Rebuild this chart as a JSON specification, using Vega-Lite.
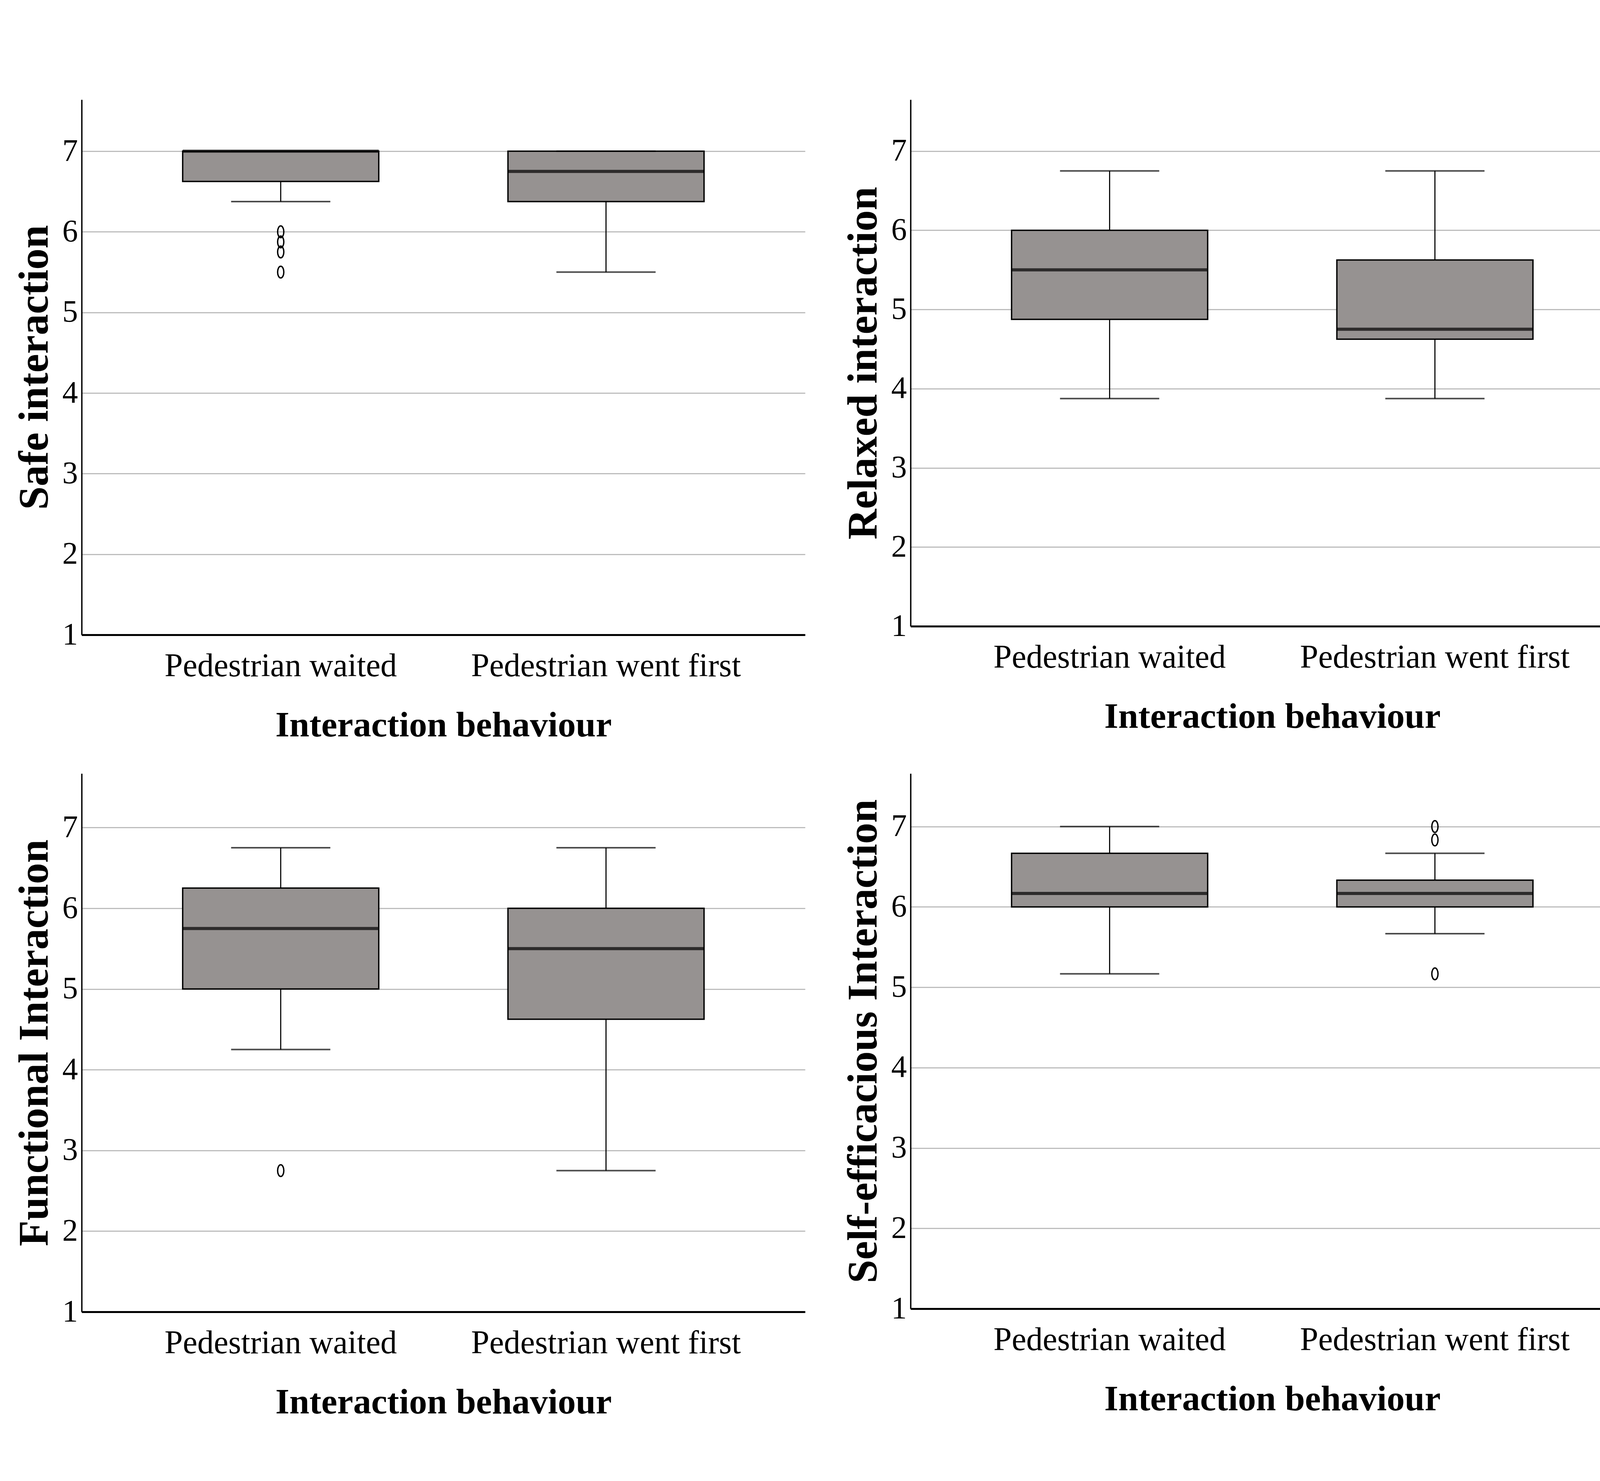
{
  "$schema": "https://vega.github.io/schema/vega-lite/v6.json",
  "background": "white",
  "padding": {"left": 35, "top": 255, "right": 2, "bottom": 2},
  "datasets": {
    "boxes": [
      {"measure": "Safe", "group": "Pedestrian waited", "lower": 6.375, "q1": 6.625, "median": 7.0, "q3": 7.0, "upper": 7.0},
      {"measure": "Safe", "group": "Pedestrian went first", "lower": 5.5, "q1": 6.375, "median": 6.75, "q3": 7.0, "upper": 7.0},
      {"measure": "Relaxed", "group": "Pedestrian waited", "lower": 3.875, "q1": 4.875, "median": 5.5, "q3": 6.0, "upper": 6.75},
      {"measure": "Relaxed", "group": "Pedestrian went first", "lower": 3.875, "q1": 4.625, "median": 4.75, "q3": 5.625, "upper": 6.75},
      {"measure": "Functional", "group": "Pedestrian waited", "lower": 4.25, "q1": 5.0, "median": 5.75, "q3": 6.25, "upper": 6.75},
      {"measure": "Functional", "group": "Pedestrian went first", "lower": 2.75, "q1": 4.625, "median": 5.5, "q3": 6.0, "upper": 6.75},
      {"measure": "Self", "group": "Pedestrian waited", "lower": 5.167, "q1": 6.0, "median": 6.167, "q3": 6.667, "upper": 7.0},
      {"measure": "Self", "group": "Pedestrian went first", "lower": 5.667, "q1": 6.0, "median": 6.167, "q3": 6.333, "upper": 6.667}
    ],
    "outliers": [
      {"measure": "Safe", "group": "Pedestrian waited", "value": 6.0},
      {"measure": "Safe", "group": "Pedestrian waited", "value": 5.875},
      {"measure": "Safe", "group": "Pedestrian waited", "value": 5.75},
      {"measure": "Safe", "group": "Pedestrian waited", "value": 5.5},
      {"measure": "Functional", "group": "Pedestrian waited", "value": 2.75},
      {"measure": "Self", "group": "Pedestrian went first", "value": 7.0},
      {"measure": "Self", "group": "Pedestrian went first", "value": 6.833},
      {"measure": "Self", "group": "Pedestrian went first", "value": 5.167}
    ]
  },
  "config": {
    "font": "Liberation Serif",
    "view": {"stroke": null},
    "axis": {
      "domainColor": "black", "ticks": false, "tickSize": 0,
      "labelColor": "black", "labelFont": "Liberation Serif", "labelLimit": 3000,
      "titleFont": "Liberation Serif", "titleFontWeight": "bold", "titleColor": "black", "titleLimit": 4000
    },
    "axisY": {"domainWidth": 3.5, "grid": true, "gridColor": "#bdbdbd", "gridWidth": 3, "labelFontSize": 80, "labelPadding": 10, "titleFontSize": 108, "titlePadding": 15, "format": "d"},
    "axisX": {"domainWidth": 5, "grid": false, "labelAngle": 0, "labelFontSize": 84, "labelPadding": 39, "titleFontSize": 92, "titlePadding": 64}
  },
  "spacing": 78,
  "vconcat": [
    {
      "spacing": 96,
      "hconcat": [
        {
          "width": 1852, "height": 1370,
          "data": {"name": "boxes"},
          "encoding": {"x": {"field": "group", "type": "nominal", "sort": ["Pedestrian waited", "Pedestrian went first"], "scale": {"type": "band", "paddingInner": 0, "paddingOuter": 0.112}, "axis": {"title": "Interaction behaviour"}}},
          "layer": [
            {"transform": [{"filter": "datum.measure === 'Safe'"}], "mark": {"type": "rule", "color": "black", "strokeWidth": 2.8}, "encoding": {"y": {"field": "lower", "type": "quantitative", "scale": {"domain": [1, 7.64], "nice": false, "zero": false}, "axis": {"values": [1, 2, 3, 4, 5, 6, 7]}, "title": "Safe interaction"}, "y2": {"field": "upper"}}},
            {"transform": [{"filter": "datum.measure === 'Safe'"}], "mark": {"type": "bar", "width": 502, "fill": "#969291", "stroke": "black", "strokeWidth": 3.5}, "encoding": {"y": {"field": "q1", "type": "quantitative", "title": "Safe interaction"}, "y2": {"field": "q3"}}},
            {"transform": [{"filter": "datum.measure === 'Safe'"}], "mark": {"type": "tick", "color": "black", "size": 502, "thickness": 8}, "encoding": {"y": {"field": "median", "type": "quantitative", "title": "Safe interaction"}}},
            {"transform": [{"filter": "datum.measure === 'Safe'"}], "mark": {"type": "tick", "color": "black", "size": 254, "thickness": 4}, "encoding": {"y": {"field": "lower", "type": "quantitative", "title": "Safe interaction"}}},
            {"transform": [{"filter": "datum.measure === 'Safe'"}], "mark": {"type": "tick", "color": "black", "size": 254, "thickness": 4}, "encoding": {"y": {"field": "upper", "type": "quantitative", "title": "Safe interaction"}}},
            {"data": {"name": "outliers"}, "transform": [{"filter": "datum.measure === 'Safe'"}], "mark": {"type": "point", "shape": "M0,-1 A0.53,1 0 1,1 0,1 A0.53,1 0 1,1 0,-1 Z", "filled": false, "color": "black", "strokeWidth": 3.5, "size": 900, "opacity": 1}, "encoding": {"y": {"field": "value", "type": "quantitative", "title": "Safe interaction"}}}
          ]
        },
        {
          "width": 1852, "height": 1348,
          "data": {"name": "boxes"},
          "encoding": {"x": {"field": "group", "type": "nominal", "sort": ["Pedestrian waited", "Pedestrian went first"], "scale": {"type": "band", "paddingInner": 0, "paddingOuter": 0.112}, "axis": {"title": "Interaction behaviour"}}},
          "layer": [
            {"transform": [{"filter": "datum.measure === 'Relaxed'"}], "mark": {"type": "rule", "color": "black", "strokeWidth": 2.8}, "encoding": {"y": {"field": "lower", "type": "quantitative", "scale": {"domain": [1, 7.65], "nice": false, "zero": false}, "axis": {"values": [1, 2, 3, 4, 5, 6, 7]}, "title": "Relaxed interaction"}, "y2": {"field": "upper"}}},
            {"transform": [{"filter": "datum.measure === 'Relaxed'"}], "mark": {"type": "bar", "width": 502, "fill": "#969291", "stroke": "black", "strokeWidth": 3.5}, "encoding": {"y": {"field": "q1", "type": "quantitative", "title": "Relaxed interaction"}, "y2": {"field": "q3"}}},
            {"transform": [{"filter": "datum.measure === 'Relaxed'"}], "mark": {"type": "tick", "color": "black", "size": 502, "thickness": 8}, "encoding": {"y": {"field": "median", "type": "quantitative", "title": "Relaxed interaction"}}},
            {"transform": [{"filter": "datum.measure === 'Relaxed'"}], "mark": {"type": "tick", "color": "black", "size": 254, "thickness": 4}, "encoding": {"y": {"field": "lower", "type": "quantitative", "title": "Relaxed interaction"}}},
            {"transform": [{"filter": "datum.measure === 'Relaxed'"}], "mark": {"type": "tick", "color": "black", "size": 254, "thickness": 4}, "encoding": {"y": {"field": "upper", "type": "quantitative", "title": "Relaxed interaction"}}}
          ]
        }
      ]
    },
    {
      "spacing": 96,
      "hconcat": [
        {
          "width": 1852, "height": 1378,
          "data": {"name": "boxes"},
          "encoding": {"x": {"field": "group", "type": "nominal", "sort": ["Pedestrian waited", "Pedestrian went first"], "scale": {"type": "band", "paddingInner": 0, "paddingOuter": 0.112}, "axis": {"title": "Interaction behaviour"}}},
          "layer": [
            {"transform": [{"filter": "datum.measure === 'Functional'"}], "mark": {"type": "rule", "color": "black", "strokeWidth": 2.8}, "encoding": {"y": {"field": "lower", "type": "quantitative", "scale": {"domain": [1, 7.67], "nice": false, "zero": false}, "axis": {"values": [1, 2, 3, 4, 5, 6, 7]}, "title": "Functional Interaction"}, "y2": {"field": "upper"}}},
            {"transform": [{"filter": "datum.measure === 'Functional'"}], "mark": {"type": "bar", "width": 502, "fill": "#969291", "stroke": "black", "strokeWidth": 3.5}, "encoding": {"y": {"field": "q1", "type": "quantitative", "title": "Functional Interaction"}, "y2": {"field": "q3"}}},
            {"transform": [{"filter": "datum.measure === 'Functional'"}], "mark": {"type": "tick", "color": "black", "size": 502, "thickness": 8}, "encoding": {"y": {"field": "median", "type": "quantitative", "title": "Functional Interaction"}}},
            {"transform": [{"filter": "datum.measure === 'Functional'"}], "mark": {"type": "tick", "color": "black", "size": 254, "thickness": 4}, "encoding": {"y": {"field": "lower", "type": "quantitative", "title": "Functional Interaction"}}},
            {"transform": [{"filter": "datum.measure === 'Functional'"}], "mark": {"type": "tick", "color": "black", "size": 254, "thickness": 4}, "encoding": {"y": {"field": "upper", "type": "quantitative", "title": "Functional Interaction"}}},
            {"data": {"name": "outliers"}, "transform": [{"filter": "datum.measure === 'Functional'"}], "mark": {"type": "point", "shape": "M0,-1 A0.53,1 0 1,1 0,1 A0.53,1 0 1,1 0,-1 Z", "filled": false, "color": "black", "strokeWidth": 3.5, "size": 900, "opacity": 1}, "encoding": {"y": {"field": "value", "type": "quantitative", "title": "Functional Interaction"}}}
          ]
        },
        {
          "width": 1852, "height": 1370,
          "data": {"name": "boxes"},
          "encoding": {"x": {"field": "group", "type": "nominal", "sort": ["Pedestrian waited", "Pedestrian went first"], "scale": {"type": "band", "paddingInner": 0, "paddingOuter": 0.112}, "axis": {"title": "Interaction behaviour"}}},
          "layer": [
            {"transform": [{"filter": "datum.measure === 'Self'"}], "mark": {"type": "rule", "color": "black", "strokeWidth": 2.8}, "encoding": {"y": {"field": "lower", "type": "quantitative", "scale": {"domain": [1, 7.66], "nice": false, "zero": false}, "axis": {"values": [1, 2, 3, 4, 5, 6, 7]}, "title": "Self-efficacious Interaction"}, "y2": {"field": "upper"}}},
            {"transform": [{"filter": "datum.measure === 'Self'"}], "mark": {"type": "bar", "width": 502, "fill": "#969291", "stroke": "black", "strokeWidth": 3.5}, "encoding": {"y": {"field": "q1", "type": "quantitative", "title": "Self-efficacious Interaction"}, "y2": {"field": "q3"}}},
            {"transform": [{"filter": "datum.measure === 'Self'"}], "mark": {"type": "tick", "color": "black", "size": 502, "thickness": 8}, "encoding": {"y": {"field": "median", "type": "quantitative", "title": "Self-efficacious Interaction"}}},
            {"transform": [{"filter": "datum.measure === 'Self'"}], "mark": {"type": "tick", "color": "black", "size": 254, "thickness": 4}, "encoding": {"y": {"field": "lower", "type": "quantitative", "title": "Self-efficacious Interaction"}}},
            {"transform": [{"filter": "datum.measure === 'Self'"}], "mark": {"type": "tick", "color": "black", "size": 254, "thickness": 4}, "encoding": {"y": {"field": "upper", "type": "quantitative", "title": "Self-efficacious Interaction"}}},
            {"data": {"name": "outliers"}, "transform": [{"filter": "datum.measure === 'Self'"}], "mark": {"type": "point", "shape": "M0,-1 A0.53,1 0 1,1 0,1 A0.53,1 0 1,1 0,-1 Z", "filled": false, "color": "black", "strokeWidth": 3.5, "size": 900, "opacity": 1}, "encoding": {"y": {"field": "value", "type": "quantitative", "title": "Self-efficacious Interaction"}}}
          ]
        }
      ]
    }
  ]
}
